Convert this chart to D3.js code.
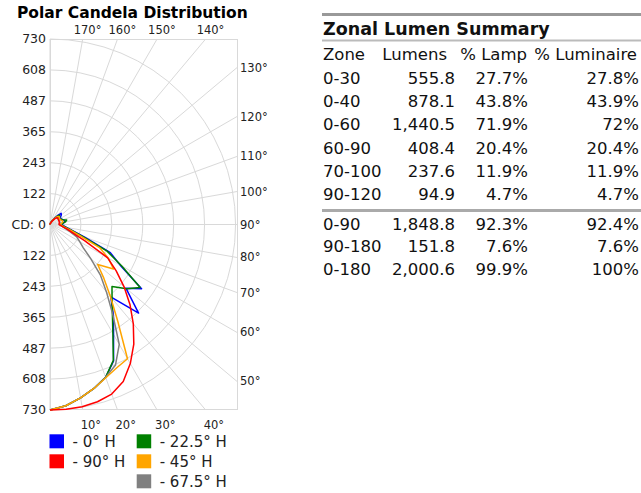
<!DOCTYPE html>
<html>
<head>
<meta charset="utf-8">
<script src="https://cdn.jsdelivr.net/npm/d3@7"></script>
<style>
  body { margin: 0; background: #fff; }
  svg { display: block; font-family: "DejaVu Sans", Verdana, sans-serif; }
</style>
</head>
<body>
<svg id="chart" width="641" height="493"></svg>
<script>
// ======================================================================
// DATA
// ======================================================================
const maxCd = 730;
const vAngles = [0, 5, 10, 15, 20, 25, 30, 35, 40, 45, 50, 55, 60, 65, 70, 75, 80, 85, 90,
  95, 100, 105, 110, 115, 120, 125, 130, 135, 140, 145, 150, 155, 160, 165, 170, 175, 180];

const seriesNames = ["0° H", "22.5° H", "45° H", "67.5° H", "90° H"];
const seriesColors = ["#0000ff", "#008000", "#ffa500", "#808080", "#ff0000"];

const cd0 = [730, 716, 693, 668, 640, 592, 500, 435, 372, 493, 390, 440, 318, 262, 145, 90, 66, 53, 45,
  52, 58, 60, 55, 50, 48, 50, 58, 62, 45, 28, 18, 12, 8, 5, 3, 2, 0];
const cd22 = [730, 716, 693, 668, 640, 590, 495, 428, 380, 345, 394, 433, 325, 248, 132, 86, 62, 50, 42,
  50, 62, 68, 55, 48, 45, 45, 50, 52, 40, 25, 16, 10, 6, 4, 2, 1, 0];
const cd45 = [730, 716, 693, 668, 642, 622, 610, 465, 370, 300, 245, 305, 265, 215, 120, 80, 58, 47, 40,
  45, 50, 52, 48, 45, 44, 45, 48, 45, 36, 24, 15, 10, 6, 4, 2, 1, 0];
const cd67 = [730, 716, 693, 668, 640, 610, 545, 430, 345, 280, 210, 160, 135, 116, 85, 65, 50, 42, 36,
  38, 40, 40, 40, 40, 40, 40, 42, 40, 32, 22, 14, 9, 6, 4, 2, 1, 0];
const cd90 = [730, 730, 728, 722, 710, 682, 632, 575, 510, 445, 380, 318, 262, 150, 95, 70, 52, 42, 36,
  36, 37, 38, 38, 38, 38, 38, 40, 38, 30, 20, 12, 8, 5, 3, 2, 1, 0];
const seriesValues = [cd0, cd22, cd45, cd67, cd90];

const ringCount = 6;
const spokeAngles = d3.range(0, 181, 10);

// Zonal lumen summary
const zones = ["0-30", "0-40", "0-60", "60-90", "70-100", "90-120", "0-90", "90-180", "0-180"];
const lumens = [555.8, 878.1, 1440.5, 408.4, 237.6, 94.9, 1848.8, 151.8, 2000.6];
const lampPct = [27.7, 43.8, 71.9, 20.4, 11.9, 4.7, 92.3, 7.6, 99.9];
const luminairePct = [27.8, 43.9, 72, 20.4, 11.9, 4.7, 92.4, 7.6, 100];
const tableHeaders = ["Zone", "Lumens", "% Lamp", "% Luminaire"];

// ======================================================================
// POLAR PLOT
// ======================================================================
const svg = d3.select("#chart");
const cx = 50, cy = 224.5, R = 185.5, frameW = 187;
const gridColor = "#d9d9d9";

const r = d3.scaleLinear().domain([0, maxCd]).range([0, R]);
const rad = d => d * Math.PI / 180;

svg.append("text")
  .attr("x", 17).attr("y", 18)
  .attr("font-size", "15.5px").attr("font-weight", "bold")
  .text("Polar Candela Distribution");

const plot = svg.append("g");

// frame
plot.append("rect")
  .attr("x", cx + 0.5).attr("y", cy - R + 0.5)
  .attr("width", frameW).attr("height", 2 * R - 1)
  .attr("fill", "none").attr("stroke", gridColor);

// rings (right half only)
const ringVals = d3.range(1, ringCount + 1).map(i => maxCd * i / ringCount);
ringVals.forEach(v => {
  const p = d3.path();
  p.arc(cx, cy, r(v), -Math.PI / 2, Math.PI / 2);
  plot.append("path").attr("d", p.toString())
    .attr("fill", "none").attr("stroke", gridColor);
});

// spokes out to the frame edge
function edgePoint(deg) {
  const sx = Math.sin(rad(deg)), sy = Math.cos(rad(deg));
  let t = Infinity;
  if (sx > 1e-9) t = frameW / sx;
  if (Math.abs(sy) > 1e-9) t = Math.min(t, R / Math.abs(sy));
  return [cx + sx * t, cy + sy * t];
}

spokeAngles.forEach(a => {
  const [x, y] = edgePoint(a);
  plot.append("line")
    .attr("x1", cx).attr("y1", cy).attr("x2", x).attr("y2", y)
    .attr("stroke", gridColor);
});

// angle labels
spokeAngles.filter(a => a > 0 && a < 180).forEach(a => {
  const [x, y] = edgePoint(a);
  const t = svg.append("text").attr("font-size", "11.5px").attr("fill", "#222").text(a + "°");
  if (Math.abs(y - (cy - R)) < 0.5) {
    t.attr("x", x - 9).attr("y", 34);
  } else if (Math.abs(y - (cy + R)) < 0.5) {
    t.attr("x", x - 2).attr("y", 429);
  } else {
    t.attr("x", 240).attr("y", y).attr("dy", "0.35em");
  }
});

// radial labels, mirrored above and below
const fmt = d3.format(".0f");
ringVals.forEach(v => {
  [-1, 1].forEach(s => {
    svg.append("text")
      .attr("x", 46).attr("y", cy + s * r(v)).attr("dy", "0.35em")
      .attr("text-anchor", "end").attr("font-size", "12.5px").attr("fill", "#222")
      .text(fmt(v));
  });
});
svg.append("text")
  .attr("x", 46).attr("y", cy).attr("dy", "0.35em")
  .attr("text-anchor", "end").attr("font-size", "12.5px").attr("fill", "#222")
  .text("CD: 0");

// candela curves
const radial = d3.lineRadial()
  .angle(d => Math.PI - rad(d[0]))
  .radius(d => r(d[1]));

const drawOrder = [0, 1, 3, 2, 4];
drawOrder.forEach(i => {
  const pts = vAngles.map((a, k) => [a, seriesValues[i][k]]);
  plot.append("path")
    .attr("transform", `translate(${cx},${cy})`)
    .attr("d", radial(pts))
    .attr("fill", "none")
    .attr("stroke", seriesColors[i])
    .attr("stroke-width", 1.5)
    .attr("stroke-linejoin", "round");
});

// legend
const legendSlots = [[0, 0], [1, 0], [1, 1], [1, 2], [0, 1]];
seriesNames.forEach((name, i) => {
  const [col, row] = legendSlots[i];
  const x = 49.5 + col * 87.2, y = 434.3 + row * 20;
  svg.append("rect").attr("x", x).attr("y", y).attr("width", 14.5).attr("height", 14)
    .attr("fill", seriesColors[i]);
  svg.append("text").attr("x", x + 23).attr("y", y + 12.5)
    .attr("font-size", "15px").attr("fill", "#222")
    .text("- " + name);
});

// ======================================================================
// ZONAL LUMEN SUMMARY
// ======================================================================
const tx = 322;
const tbl = svg.append("g").attr("font-size", "16.5px").attr("fill", "#111");

tbl.append("line").attr("x1", tx).attr("x2", 641).attr("y1", 14.5).attr("y2", 14.5)
  .attr("stroke", "#999").attr("stroke-width", 3);
tbl.append("text").attr("x", tx + 1).attr("y", 34.5)
  .attr("font-size", "17.5px").attr("font-weight", "bold")
  .text("Zonal Lumen Summary");
tbl.append("line").attr("x1", tx).attr("x2", 641).attr("y1", 40.5).attr("y2", 40.5)
  .attr("stroke", "#bbb").attr("stroke-width", 2);

const colRight = [null, 455, 528, 639];
const headerY = 60;
tbl.append("text").attr("x", tx + 1).attr("y", headerY).text(tableHeaders[0]);
tbl.append("text").attr("x", 447).attr("y", headerY).attr("text-anchor", "end").text(tableHeaders[1]);
tbl.append("text").attr("x", 527).attr("y", headerY).attr("text-anchor", "end").text(tableHeaders[2]);
tbl.append("text").attr("x", 637).attr("y", headerY).attr("text-anchor", "end").text(tableHeaders[3]);

const rowY = i => i < 6 ? 84 + i * 23.2 : 230 + (i - 6) * 22.3;
const fmtLm = d3.format(",.1f");
const fmtPct = v => (Math.round(v * 10) / 10) + "%";

zones.forEach((z, i) => {
  const y = rowY(i);
  tbl.append("text").attr("x", tx + 1).attr("y", y).text(z);
  tbl.append("text").attr("x", colRight[1]).attr("y", y).attr("text-anchor", "end").text(fmtLm(lumens[i]));
  tbl.append("text").attr("x", colRight[2]).attr("y", y).attr("text-anchor", "end").text(fmtPct(lampPct[i]));
  tbl.append("text").attr("x", colRight[3]).attr("y", y).attr("text-anchor", "end").text(fmtPct(luminairePct[i]));
});

tbl.append("line").attr("x1", tx).attr("x2", 641).attr("y1", 210.5).attr("y2", 210.5)
  .attr("stroke", "#aaa").attr("stroke-width", 3);
</script>
</body>
</html>
